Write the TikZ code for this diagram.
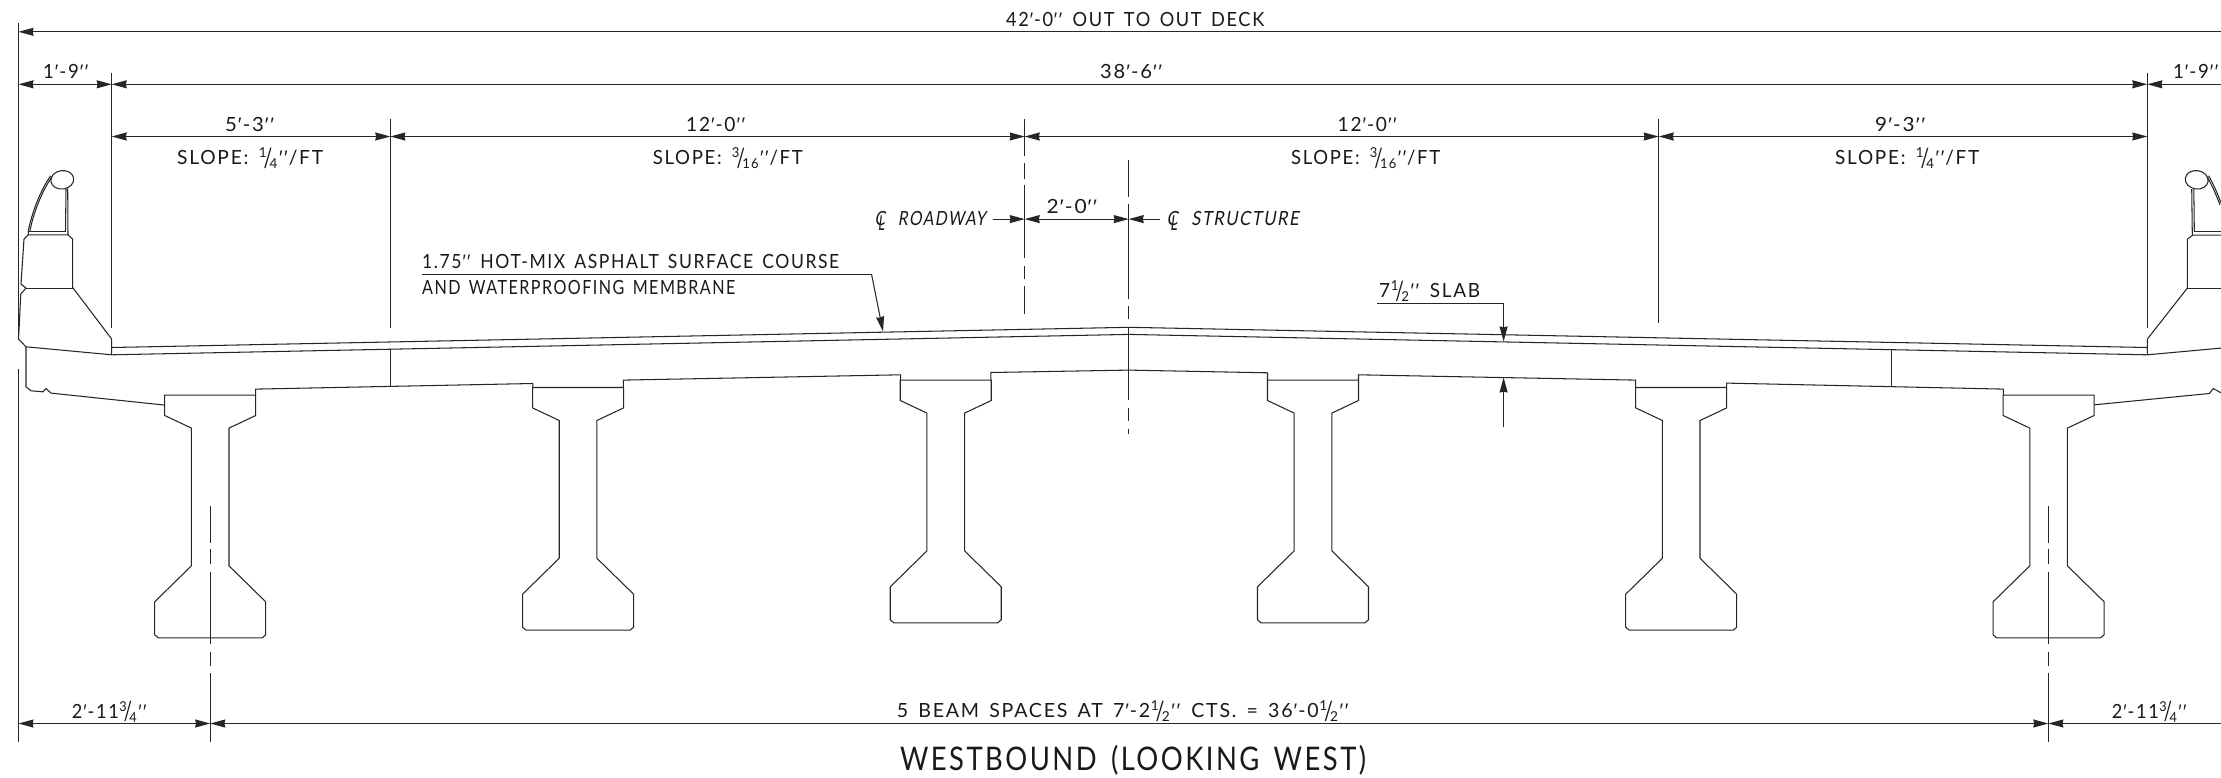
\documentclass[tikz,border=0pt]{standalone}
\usepackage{fontspec}
\usepackage{graphicx}
\usetikzlibrary{arrows.meta}
\setmainfont{Lato}[LetterSpace=9,WordSpace=1.5,Ligatures=NoCommon]
\newfontfamily\cadi{Lato}[LetterSpace=9,WordSpace=1.5,FakeSlant=0.2]
\newfontfamily\pf{Liberation Sans}
\newcommand\ft{{\pf\kern.05em ′\kern.05em}}
\newcommand\inch{{\pf\kern.05em ′\kern.08em ′\kern.05em}}
\newcommand\frc[2]{\kern.03em\raisebox{.36em}{\scalebox{.7}{#1}}\kern-.16em\raisebox{-.14em}{\scalebox{1}[1.35]{/}}\kern-.14em\raisebox{-.2em}{\scalebox{.7}{#2}}\kern.03em}
\newcommand\cl{\makebox[0pt][l]{C}\kern.2em\raisebox{-.24em}{\scalebox{.8}[1.05]{L}}\kern.35em}
\newsavebox\fitbox
\newlength\fitcap
% #1 cap height, #2 width, #3 text
\newcommand\fitc[3]{\sbox\fitbox{\fontsize{20}{24}\selectfont #3}\settoheight\fitcap{\fontsize{20}{24}\selectfont H}\pgfmathsetmacro\fitsx{#2/(\wd\fitbox/1pt)}\pgfmathsetmacro\fitsy{#1/(\fitcap/1pt)}\scalebox{\fitsx}[\fitsy]{\usebox\fitbox}}
\newcommand\fitw[2]{\fitc{14}{#1}{#2}}
\tikzset{
  cad/.style={line width=1.05pt,black!85,line join=miter},
  atip/.tip={Stealth[length=15pt,width=8pt,inset=0.8pt]},
  dimln/.style={cad,atip-atip},
  dimr/.style={cad,-atip},
  diml/.style={cad,atip-},
  lab/.style={anchor=base west,inner sep=0pt,text=black!90},
}
\newcommand\girder[2]{%
  \draw[cad,shift={(#1,#2)}] (-45.5,0) -- (45.5,0) -- (45.5,20.4) -- (18.8,33) -- (18.8,170.7) -- (55.5,206.7) -- (55.5,239.7) -- (52,242.7) -- (-52,242.7) -- (-55.5,239.7) -- (-55.5,206.7) -- (-18.8,170.7) -- (-18.8,33) -- (-45.5,20.4) -- cycle;}
\begin{document}
\begin{tikzpicture}[x=1pt,y=-1pt]
\useasboundingbox (0,0) rectangle (2221,777);
\fill[white] (0,0) rectangle (2221,777);
\clip (0,0) rectangle (2221,777);
\begin{scope}[yshift=-0.8pt]

% anchor coordinates of dimension stops
\coordinate (topL) at (18.5,31);   \coordinate (topR) at (2221,31);
\coordinate (r2a) at (18.5,83.5);  \coordinate (r2b) at (111.7,83.5);
\coordinate (r2c) at (2147.3,83.5);\coordinate (r2d) at (2221,83.5);
\coordinate (r3a) at (111.7,135.7);\coordinate (r3b) at (390.3,135.7);
\coordinate (r3c) at (1024.7,135.7);\coordinate (r3d) at (1658.7,135.7);
\coordinate (r3e) at (2147.3,135.7);
\coordinate (clL) at (1024.7,218.3);\coordinate (clR) at (1128.7,218.3);
\coordinate (clLt) at (993.3,218.3);\coordinate (clRt) at (1160,218.3);
\coordinate (bta) at (18.5,722.7); \coordinate (btb) at (210.2,722.7);
\coordinate (btc) at (2048.3,722.7);\coordinate (btd) at (2221,722.7);

% extension lines
\draw[cad] (18.5,22) -- (18.5,338.3);
\draw[cad] (18.5,368) -- (18.5,741);
\draw[cad] (111.7,72) -- (111.7,327);
\draw[cad] (2147.3,72) -- (2147.3,327);
\draw[cad] (390.3,118) -- (390.3,327);
\draw[cad] (1658.7,118.3) -- (1658.7,321.7);
\draw[cad] (1024.7,118.3) -- (1024.7,155) (1024.7,161.7) -- (1024.7,178.3) (1024.7,184) -- (1024.7,256.7) (1024.7,265) -- (1024.7,278.3) (1024.7,285) -- (1024.7,313.3);
\draw[cad] (1128.7,159.3) -- (1128.7,196) (1128.7,203.3) -- (1128.7,217.3) (1128.7,217.3) -- (1128.7,298.3) (1128.7,305) -- (1128.7,318.3) (1128.7,326) -- (1128.7,399.3) (1128.7,406.7) -- (1128.7,420) (1128.7,428.3) -- (1128.7,432.7);
\foreach \cx in {210.2,2048.3}{
  \draw[cad] (\cx,505) -- (\cx,541.7) (\cx,548.5) -- (\cx,563.3) (\cx,570.7) -- (\cx,643.3) (\cx,650.7) -- (\cx,665) (\cx,672.5) -- (\cx,740.7);
}

% dimension lines
\draw[diml] (topL) -- (topR);
\draw[dimln] (r2a) -- (r2b);
\draw[dimln] (r2b) -- (r2c);
\draw[diml] (r2c) -- (r2d);
\draw[dimln] (r3a) -- (r3b);
\draw[dimln] (r3b) -- (r3c);
\draw[dimln] (r3c) -- (r3d);
\draw[dimln] (r3d) -- (r3e);
\draw[dimr] (clLt) -- (clL);
\draw[dimln] (clL) -- (clR);
\draw[diml] (clR) -- (clRt);
\draw[dimln] (bta) -- (btb);
\draw[dimln] (btb) -- (btc);
\draw[diml] (btc) -- (btd);

% deck surfaces
\draw[cad] (111.7,346.7) -- (1128.7,326.5) -- (2147.3,346.7);
\draw[cad] (111.7,354) -- (1128.7,333.6) -- (2147.3,354);

% left barrier
\draw[cad] (111.7,354) -- (111.7,338.3) -- (72.7,286.7) -- (72.7,238.3) -- (68,234) -- (28.3,234) -- (24,238.3) -- (21,283.3) -- (26,287.3) -- (20.7,293.3) -- (19.5,320) -- (18.5,338.3) -- (26,346) -- (111.7,354);
\draw[cad] (26,287.3) -- (72.7,287.3);
\draw[cad] (28.3,234) -- (28.3,230) .. controls (32,212) and (40,190) .. (50.7,175);
\draw[cad] (29.8,230.7) .. controls (33.5,212) and (41.5,191) .. (52,176);
\draw[cad] (29,230.7) -- (65.7,230.7);
\draw[cad] (66,188.3) -- (65.5,230.7);
\draw[cad] (67.7,187.5) -- (68,234);
\draw[cad] (62.3,179) ellipse [x radius=11.5,y radius=9.2,rotate=8];

% right barrier
\draw[cad] (2147.3,354) -- (2147.3,338.3) -- (2187.3,287.3) -- (2187.3,238.3) -- (2192.7,234.3) -- (2221,234.3);
\draw[cad] (2187.3,287.3) -- (2221,287.3);
\draw[cad] (2193.5,230.7) -- (2221,230.7);
\draw[cad] (2191.7,188.3) -- (2192.3,234.3);
\draw[cad] (2193.8,188) -- (2194.3,230.7);
\draw[cad] (2196.7,179) ellipse [x radius=11.5,y radius=9.2,rotate=-8];
\draw[cad] (2208.5,175) .. controls (2213,182) and (2217,192) .. (2221,202);
\draw[cad] (2207,176) .. controls (2212,184) and (2216,194) .. (2220,204);

% deck underside
\draw[cad] (26,346) -- (26,386) -- (31,390) -- (43,391) -- (46,387.7) -- (51,392.3) -- (164.7,404.3);
\draw[cad] (2147.3,354) -- (2221,347.3);
\draw[cad] (2094.3,404) -- (2209.3,392.7) -- (2213.3,387.7) -- (2221,392);
\draw[cad] (255.7,394.3) -- (255.7,388.3) -- (532.8,382.7) -- (532.8,386.7);
\draw[cad] (623.3,386.7) -- (623.3,379.3) -- (900.6,374) -- (900.6,379.3);
\draw[cad] (990.9,379.3) -- (990.9,371.7) -- (1128.7,369.3) -- (1267.5,372) -- (1267.5,379.3);
\draw[cad] (1358.5,379.3) -- (1358.5,374) -- (1635.7,379.3) -- (1635.7,386.7);
\draw[cad] (1726.7,386.7) -- (1726.7,382.3) -- (2003.3,388.3) -- (2003.3,394.3);
\draw[cad] (390.3,348.3) -- (390.3,385.7);
\draw[cad] (1891.7,349.3) -- (1891.7,386);

% girders
\girder{210.2}{394.3}
\girder{578.05}{386.7}
\girder{945.75}{379.3}
\girder{1313}{379.3}
\girder{1681.2}{386.7}
\girder{2048.6}{394.3}

% leaders
\coordinate (ldA) at (422,273.3); \coordinate (ldB) at (871.5,273.3); \coordinate (ldC) at (883,330.7);
\draw[cad] (ldA) -- (ldB);
\draw[dimr] (ldB) -- (ldC);
\coordinate (slA) at (1377,302.3); \coordinate (slB) at (1503.6,302.3); \coordinate (slC) at (1503.6,340.7);
\draw[cad] (slA) -- (slB);
\draw[dimr] (slB) -- (slC);
\coordinate (slD) at (1503.6,426); \coordinate (slE) at (1503.6,376.7);
\draw[dimr] (slD) -- (slE);

% texts
\node[lab] (t42) at (1006,25.5) {\fitw{258}{42\ft-0\inch{} OUT TO OUT DECK}};
\node[lab] (t38) at (1100,77.5) {\fitw{63}{38\ft-6\inch}};
\node[lab] (tal) at (43,77.5) {\fitw{46}{1\ft-9\inch}};
\node[lab] (tar) at (2173,77.5) {\fitw{46}{1\ft-9\inch}};
\node[lab] (t53) at (225,130.5) {\fitw{50}{5\ft-3\inch}};
\node[lab] (s1) at (177,163.5) {\fitw{146}{SLOPE: \frc{1}{4}\inch/FT}};
\node[lab] (t12a) at (686,130.5) {\fitw{60}{12\ft-0\inch}};
\node[lab] (s2) at (652.6,163.5) {\fitw{150}{SLOPE: \frc{3}{16}\inch/FT}};
\node[lab] (t12b) at (1337.5,130.5) {\fitw{60}{12\ft-0\inch}};
\node[lab] (s3) at (1291,163.5) {\fitw{149}{SLOPE: \frc{3}{16}\inch/FT}};
\node[lab] (t93) at (1875,130.5) {\fitw{51}{9\ft-3\inch}};
\node[lab] (s4) at (1835,163.5) {\fitw{144}{SLOPE: \frc{1}{4}\inch/FT}};
\node[lab] (croad) at (874.5,225) {\fitw{111}{\cadi\cl{} ROADWAY}};
\node[lab] (cstr) at (1166.5,225) {\fitw{132}{\cadi\cl{} STRUCTURE}};
\node[lab] (t20) at (1046.5,212.7) {\fitw{51.5}{2\ft-0\inch}};
\node[lab] (ld1) at (422,267.7) {\fitw{417}{1.75\inch{} HOT-MIX ASPHALT SURFACE COURSE}};
\node[lab] (ld2) at (422,293.3) {\fitw{313}{AND WATERPROOFING MEMBRANE}};
\node[lab] (sl) at (1379,296.7) {\fitw{101}{7\frc{1}{2}\inch{} SLAB}};
\node[lab] (b1) at (71.7,717.3) {\fitw{75.6}{2\ft-11\frc{3}{4}\inch}};
\node[lab] (b2) at (2111.7,717.3) {\fitw{75.6}{2\ft-11\frc{3}{4}\inch}};
\node[lab] (b3) at (896.7,716.7) {\fitw{452.7}{5 BEAM SPACES AT 7\ft-2\frc{1}{2}\inch{} CTS. = 36\ft-0\frc{1}{2}\inch}};
\node[lab] (ttl) at (899.8,770) {\fitc{23.3}{466}{WESTBOUND (LOOKING WEST)}};
\end{scope}
\end{tikzpicture}
\end{document}
